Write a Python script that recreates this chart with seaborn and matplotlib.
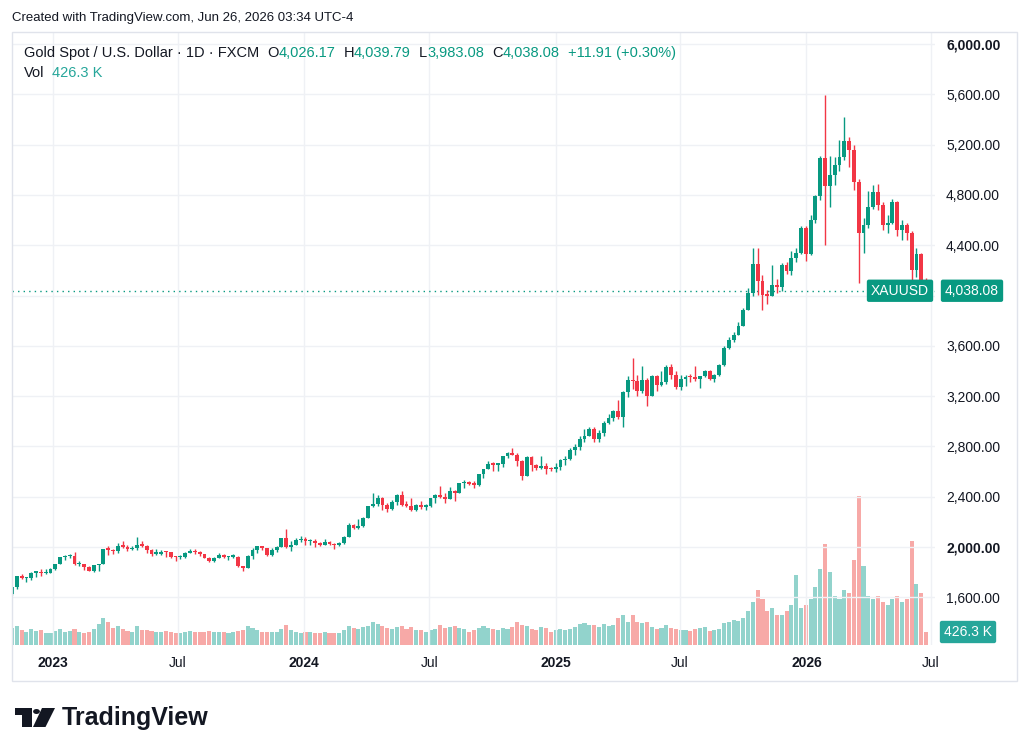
import numpy as np
import pandas as pd
import matplotlib
matplotlib.use("Agg")
import matplotlib.pyplot as plt
import matplotlib.dates as mdates
from matplotlib.patches import Rectangle, Polygon, Circle
import seaborn as sns

# --- datos semanales (cierre viernes) ---
week_start = "2022-11-04"

open_w = [
    1630, 1681, 1771, 1751, 1755, 1797, 1797, 1793, 1798,
    1824, 1865, 1920, 1926, 1928, 1865, 1865, 1842, 1811, 1856, 1868, 1989, 1978, 1969, 2007, 2004, 1983,
    1990, 2017, 2011, 1977, 1946, 1948, 1961, 1958, 1921, 1919, 1925, 1955, 1962, 1959, 1943, 1914, 1889,
    1915, 1940, 1919, 1924, 1925, 1848, 1833, 1933, 1981, 2006, 1993, 1940, 1981, 2002, 2072, 2004, 2019, 2053,
    2062, 2045, 2049, 2029, 2018, 2039, 2024, 2013, 2035, 2083, 2179, 2156, 2165, 2233, 2329, 2344, 2392,
    2337, 2301, 2360, 2415, 2334, 2327, 2294, 2332, 2322, 2326, 2392, 2411, 2400, 2386, 2443, 2431, 2507,
    2512, 2503, 2497, 2578, 2622, 2658, 2653, 2657, 2721, 2747, 2736, 2685, 2563, 2715, 2650, 2633, 2648, 2622,
    2621, 2640, 2690, 2703, 2770, 2798, 2861, 2883, 2936, 2858, 2910, 2984, 3023, 3085, 3037, 3237, 3327,
    3319, 3241, 3325, 3203, 3357, 3289, 3310, 3433, 3368, 3274, 3337, 3355, 3350, 3337, 3363, 3398, 3336,
    3371, 3448, 3586, 3643, 3685, 3760, 3886, 4018, 4252, 4113, 4002, 4000, 4084, 4065, 4239, 4198, 4300, 4338,
    4533, 4330, 4600, 4790, 5090, 4870, 4960, 5040, 5100, 5230, 5160, 4900, 4500, 4560, 4700, 4820, 4720,
    4560, 4580, 4740, 4520, 4560, 4500, 4200, 4330, 4060,
]
high_w = [
    1682, 1774, 1787, 1760, 1804, 1808, 1824, 1824, 1833,
    1869, 1922, 1937, 1949, 1960, 1890, 1868, 1848, 1858, 1868, 1989, 2009, 1985, 2032, 2049, 2015, 2009,
    2079, 2048, 2019, 1985, 1983, 1975, 1971, 1958, 1931, 1934, 1963, 1987, 1982, 1968, 1948, 1920, 1923,
    1953, 1947, 1932, 1947, 1926, 1853, 1934, 1997, 2009, 2009, 1995, 1993, 2008, 2075, 2146, 2047, 2071, 2088,
    2078, 2062, 2062, 2042, 2065, 2045, 2031, 2041, 2088, 2195, 2185, 2223, 2236, 2330, 2432, 2418, 2396,
    2354, 2378, 2422, 2450, 2364, 2387, 2341, 2368, 2340, 2392, 2424, 2483, 2432, 2477, 2455, 2509, 2531,
    2528, 2529, 2581, 2625, 2685, 2673, 2661, 2722, 2759, 2790, 2751, 2689, 2721, 2721, 2657, 2726, 2665, 2638,
    2665, 2697, 2725, 2786, 2817, 2886, 2942, 2955, 2956, 2930, 3005, 3057, 3087, 3168, 3245, 3358, 3500,
    3368, 3437, 3345, 3366, 3365, 3403, 3446, 3452, 3397, 3365, 3369, 3375, 3438, 3363, 3409, 3405, 3379,
    3453, 3600, 3674, 3707, 3791, 3897, 4059, 4379, 4381, 4160, 4047, 4245, 4133, 4255, 4265, 4353, 4375, 4550,
    4550, 4640, 4800, 5110, 5595, 5110, 5100, 5240, 5420, 5260, 5200, 4930, 4620, 4830, 4880, 4890, 4740,
    4640, 4770, 4750, 4600, 4580, 4510, 4376, 4340, 4140,
]
low_w = [
    1616, 1665, 1747, 1721, 1739, 1765, 1774, 1784, 1795,
    1822, 1865, 1896, 1916, 1861, 1853, 1819, 1809, 1804, 1810, 1867, 1934, 1949, 1950, 1991, 1969, 1975,
    1977, 2003, 1952, 1932, 1940, 1935, 1925, 1911, 1893, 1902, 1915, 1950, 1942, 1927, 1910, 1885, 1884,
    1913, 1910, 1901, 1913, 1846, 1810, 1831, 1908, 1953, 1978, 1932, 1931, 1965, 1999, 1995, 1973, 2016, 2040,
    2016, 2013, 2001, 2010, 2017, 2014, 1984, 2010, 2024, 2079, 2146, 2146, 2163, 2229, 2319, 2325, 2292,
    2277, 2292, 2333, 2325, 2321, 2286, 2288, 2303, 2293, 2319, 2351, 2392, 2353, 2380, 2364, 2428, 2470,
    2493, 2471, 2485, 2547, 2620, 2603, 2603, 2640, 2708, 2729, 2643, 2537, 2563, 2605, 2613, 2623, 2583, 2603,
    2596, 2614, 2656, 2689, 2730, 2772, 2833, 2883, 2833, 2832, 2880, 2982, 3000, 3015, 2957, 3193, 3260,
    3202, 3228, 3120, 3200, 3245, 3280, 3294, 3340, 3255, 3248, 3282, 3309, 3324, 3268, 3352, 3330, 3311,
    3361, 3436, 3577, 3627, 3684, 3759, 3885, 4000, 4004, 3886, 3930, 3995, 4022, 4040, 4170, 4160, 4270, 4330,
    4275, 4320, 4580, 4760, 4400, 4700, 4880, 4990, 5080, 5020, 4840, 4100, 4340, 4540, 4690, 4680, 4520,
    4500, 4570, 4470, 4440, 4440, 4120, 4150, 4030, 3983.08,
]
close_w = [
    1681, 1771, 1751, 1755, 1797, 1797, 1793, 1798, 1824,
    1865, 1920, 1926, 1928, 1865, 1865, 1842, 1811, 1856, 1868, 1989, 1978, 1969, 2007, 2004, 1983, 1990,
    2017, 2011, 1977, 1946, 1948, 1961, 1958, 1921, 1919, 1925, 1955, 1962, 1959, 1943, 1914, 1889, 1915,
    1940, 1919, 1924, 1925, 1848, 1833, 1933, 1981, 2006, 1993, 1940, 1981, 2002, 2072, 2004, 2019, 2053, 2062,
    2045, 2049, 2029, 2018, 2039, 2024, 2013, 2035, 2083, 2179, 2156, 2165, 2233, 2329, 2344, 2392, 2337,
    2301, 2360, 2415, 2334, 2327, 2294, 2332, 2322, 2326, 2392, 2411, 2400, 2386, 2443, 2431, 2507, 2512,
    2503, 2497, 2578, 2622, 2658, 2653, 2657, 2721, 2747, 2736, 2685, 2563, 2715, 2650, 2633, 2648, 2622, 2621,
    2640, 2690, 2703, 2770, 2798, 2861, 2883, 2936, 2858, 2910, 2984, 3023, 3085, 3037, 3237, 3327, 3319,
    3241, 3325, 3203, 3357, 3289, 3310, 3433, 3368, 3274, 3337, 3355, 3350, 3337, 3363, 3398, 3336, 3371,
    3448, 3586, 3643, 3685, 3760, 3886, 4018, 4252, 4113, 4002, 4000, 4084, 4065, 4239, 4198, 4300, 4338, 4533,
    4330, 4600, 4790, 5090, 4870, 4960, 5040, 5100, 5230, 5160, 4900, 4500, 4560, 4700, 4820, 4720, 4560,
    4580, 4740, 4520, 4560, 4500, 4200, 4330, 4060, 4038.08,
]
volume_k = [
    560, 620, 480, 420, 520, 450, 500, 380, 400,
    470, 520, 420, 460, 540, 430, 400, 440, 520, 700, 880, 760, 560, 620, 520, 470, 430,
    620, 500, 480, 460, 430, 430, 470, 440, 400, 380, 430, 460, 420, 430, 410, 450, 420,
    430, 410, 400, 440, 470, 480, 620, 560, 490, 420, 440, 410, 430, 520, 640, 500, 420, 380,
    430, 420, 400, 380, 420, 390, 400, 380, 480, 620, 560, 520, 580, 620, 760, 700, 620,
    560, 540, 600, 620, 520, 600, 500, 480, 430, 480, 520, 640, 560, 600, 620, 560, 520,
    440, 480, 560, 620, 560, 520, 480, 560, 520, 600, 760, 640, 620, 540, 500, 580, 560, 420,
    480, 520, 500, 540, 600, 680, 720, 640, 660, 600, 680, 620, 640, 900, 1000, 760, 980,
    760, 720, 740, 600, 520, 560, 640, 560, 520, 500, 480, 460, 520, 560, 580, 460, 480,
    520, 720, 760, 820, 780, 900, 1100, 1400, 1800, 1500, 1100, 1200, 1000, 1000, 1100, 1300, 2300, 1200,
    1300, 1500, 1900, 2500, 3300, 2400, 1600, 1500, 1800, 1700, 2800, 4900, 2600, 1600, 1500, 1600, 1400,
    1300, 1500, 1600, 1400, 1500, 3400, 2000, 1700, 426.3,
]

# última vela diaria (cabecera)
last_ohlc = [4026.17, 4039.79, 3983.08, 4038.08]
last_change = [11.91, 0.30]
last_vol_k = 426.3

price_ticks = [1600, 2000, 2400, 2800, 3200, 3600, 4000, 4400, 4800, 5200, 5600, 6000]
price_hidden = [4000]          # tapado por la etiqueta del último precio
price_bold = [2000, 6000]
time_ticks = ["2023-01-01", "2023-07-01", "2024-01-01", "2024-07-01",
              "2025-01-01", "2025-07-01", "2026-01-01", "2026-07-01"]
time_labels = ["2023", "Jul", "2024", "Jul", "2025", "Jul", "2026", "Jul"]

# --- estilo ---
sns.set_theme(style="white")
plt.rcParams["font.family"] = ["Liberation Sans", "DejaVu Sans"]
INK = "#131722"
UP, DOWN = "#089981", "#f23645"
VOL_UP, VOL_DOWN = "#92d3cc", "#f7a9a7"
GRID = "#eff1f5"

W, H = 1029, 756
fig = plt.figure(figsize=(W / 100, H / 100), dpi=100)
fig.patch.set_facecolor("white")


def frac(x, y):
    return x / W, 1 - y / H


rect = [12 / W, 1 - 645 / H, (935 - 12) / W, (645 - 32) / H]
ax_vol = fig.add_axes(rect)
ax = fig.add_axes(rect, sharex=ax_vol)
ax.patch.set_alpha(0)

df = pd.DataFrame({"open": open_w, "high": high_w, "low": low_w,
                   "close": close_w, "volume": volume_k})
df["date"] = pd.date_range(week_start, periods=len(df), freq="W-FRI") - pd.Timedelta(days=2)
df["x"] = mdates.date2num(df["date"])
df["dir"] = np.where(df["close"] >= df["open"], "up", "down")

# volumen (seaborn, escala nativa de fechas)
sns.barplot(data=df, x="x", y="volume", hue="dir", orient="x", native_scale=True,
            palette={"up": VOL_UP, "down": VOL_DOWN}, dodge=False, width=0.85,
            errorbar=None, saturation=1, linewidth=0, legend=False, ax=ax_vol)
ax_vol.set_ylim(0, 20100)
ax_vol.set_xlabel("")
ax_vol.set_ylabel("")
ax_vol.tick_params(labelbottom=False, labelleft=False, length=0)
for s in ax_vol.spines.values():
    s.set_visible(False)

# velas
col = np.where(df["dir"] == "up", UP, DOWN)
ax.vlines(df["x"], df["low"], df["high"], colors=col, lw=1.0, zorder=3)
body = (df["close"] - df["open"]).abs().clip(lower=12)
ax.bar(df["x"], body, bottom=np.minimum(df["open"], df["close"]), width=5.6,
       color=col, linewidth=0, zorder=3)

ax.set_xlim(mdates.date2num(pd.Timestamp("2022-11-02")), mdates.date2num(pd.Timestamp("2026-07-07")))
ax.set_ylim(1222, 6095)

# ejes y rejilla
ax.yaxis.tick_right()
ax.set_yticks(price_ticks)
ax.set_yticklabels(["" if v in price_hidden else f"{v:,.2f}" for v in price_ticks])
for v, lab in zip(price_ticks, ax.get_yticklabels()):
    if v in price_bold:
        lab.set_fontweight("bold")
ax.set_xticks(mdates.date2num(pd.to_datetime(time_ticks)))
ax.set_xticklabels(time_labels)
for lab in ax.get_xticklabels():
    if lab.get_text() != "Jul":
        lab.set_fontweight("bold")
ax.tick_params(axis="y", length=0, pad=8, labelsize=10, labelcolor=INK)
ax.tick_params(axis="x", length=0, pad=8, labelsize=10, labelcolor=INK)
ax.grid(True, color=GRID, lw=1, zorder=0)
ax.set_axisbelow(True)
for s in ax.spines.values():
    s.set_visible(False)

# línea del último precio y etiquetas
ax.axhline(last_ohlc[3], color=UP, lw=1, ls=(0, (1, 3)), zorder=2)
box = dict(boxstyle="round,pad=0.3,rounding_size=0.15", fc=UP, ec="none")
ax.annotate(f"{last_ohlc[3]:,.2f}", xy=(1.0, last_ohlc[3]), xycoords=("axes fraction", "data"),
            xytext=(10, 0), textcoords="offset pixels", ha="left", va="center",
            color="white", fontsize=10, bbox=box, zorder=6)
ax.annotate("XAUUSD", xy=(1.0, last_ohlc[3]), xycoords=("axes fraction", "data"),
            xytext=(-6, 0), textcoords="offset pixels", ha="right", va="center",
            color="white", fontsize=10, bbox=box, zorder=6)
ax_vol.annotate(f"{last_vol_k:.1f} K", xy=(1.0, last_vol_k), xycoords=("axes fraction", "data"),
                xytext=(9, 0), textcoords="offset pixels", ha="left", va="center",
                color="white", fontsize=10, annotation_clip=False,
                bbox=dict(boxstyle="round,pad=0.3,rounding_size=0.15", fc="#26a69a", ec="none"))

# marco del gráfico
fig.add_artist(Rectangle(frac(12, 681), (1017 - 12) / W, (681 - 32) / H, transform=fig.transFigure,
                         fill=False, ec="#e0e3eb", lw=1))

# textos de cabecera
renderer = fig.canvas.get_renderer()


def text_row(x0, y0, pieces, size):
    x = x0
    for s, c, gap in pieces:
        t = fig.text(*frac(x, y0), s, color=c, fontsize=size, ha="left", va="center")
        x = t.get_window_extent(renderer).x1 + gap


fig.text(*frac(12, 18), "Created with TradingView.com, Jun 26, 2026 03:34 UTC-4",
         color=INK, fontsize=9.5, ha="left", va="center")
o, h, l, c = last_ohlc
text_row(24, 53, [
    ("Gold Spot / U.S. Dollar · 1D · FXCM", INK, 8),
    ("O", INK, 0), (f"{o:,.2f}", UP, 8),
    ("H", INK, 0), (f"{h:,.2f}", UP, 8),
    ("L", INK, 0), (f"{l:,.2f}", UP, 8),
    ("C", INK, 0), (f"{c:,.2f}", UP, 8),
    (f"+{last_change[0]:.2f} (+{last_change[1]:.2f}%)", UP, 0),
], 10.5)
text_row(24, 73, [("Vol", INK, 7), (f"{last_vol_k:.1f} K", "#26a69a", 0)], 10.5)

# logotipo
logo = [
    Polygon([frac(15, 708), frac(31.5, 708), frac(31.5, 727), frac(22, 727), frac(22, 714.5), frac(15, 714.5)],
            closed=True),
    Polygon([frac(42, 708), frac(55, 708), frac(45.5, 727), frac(33, 727)], closed=True),
]
for p in logo:
    p.set_transform(fig.transFigure)
    p.set_facecolor(INK)
    p.set_edgecolor("none")
    fig.add_artist(p)
dot = Circle(frac(36.5, 711.5), 3.4 / W, transform=fig.transFigure, fc=INK, ec="none")
fig.add_artist(dot)
fig.text(*frac(62, 718), "TradingView", color=INK, fontsize=18, fontweight="bold",
         ha="left", va="center")

fig.savefig("out.png", dpi=100, facecolor="white")
